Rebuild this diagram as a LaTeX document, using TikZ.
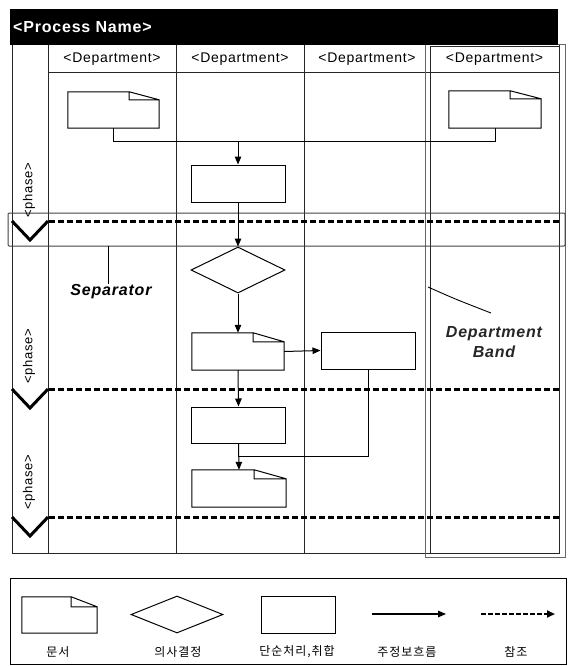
\documentclass[tikz,border=0pt]{standalone}
\usepackage{fontspec}
\setmainfont{Liberation Sans}[LetterSpace=5]
\newfontfamily\krfont{Noto Sans CJK KR}[LetterSpace=8]
\usetikzlibrary{arrows.meta,calc,shapes.geometric}

% outline of a document symbol: node name, fold width, fold height
\newcommand\docoutline[3]{%
  \draw[link, line join=miter]
    (#1.north west) -- ($(#1.north east)+(-#2,0)$) -- ($(#1.north east)+(0,#3)$)
    -- (#1.south east) -- (#1.south west) -- cycle
    ($(#1.north east)+(-#2,0)$) |- ($(#1.north east)+(0,#3)$);}

\begin{document}
\begin{tikzpicture}[x=1pt,y=-1pt,
  link/.style={line width=1pt},
  grid/.style={line width=1pt, black!85},
  phaseline/.style={line width=3pt, dash pattern=on 6pt off 3pt},
  chev/.style={line width=3pt, line join=miter},
  flow/.style={line width=1pt, -{Triangle[length=8pt,width=6.5pt]}},
  refflow/.style={line width=2.6pt, dash pattern=on 4.5pt off 2.5pt,
                  -{Triangle[length=8pt,width=7pt]}},
  procbox/.style={draw, line width=1pt, rectangle, inner sep=0pt,
                  minimum width=94pt, minimum height=37pt},
  decbox/.style={draw, line width=1pt, diamond, aspect=2, inner sep=0pt,
                 minimum width=94pt, minimum height=46pt},
  docbox/.style={rectangle, inner sep=0pt, minimum width=92pt, minimum height=37pt},
  hdr/.style={font=\fontsize{14}{16}\selectfont, inner sep=1pt},
  phaselbl/.style={font=\fontsize{13}{15}\selectfont, rotate=90, inner sep=1pt},
  annot/.style={font=\bfseries\itshape\fontsize{16}{20}\selectfont, inner sep=1pt},
  krlbl/.style={font=\krfont\fontsize{12}{14}\selectfont, inner sep=1pt}
]
\useasboundingbox (0,0) rectangle (568,666);

% ---- swimlane grid ----
\draw[grid] (12,45) rectangle (559,553);
\draw[grid] (48,45) -- (48,553);
\draw[grid] (48,73) -- (559,73);
\draw[grid] (176,45) -- (176,553);
\draw[grid] (304,45) -- (304,553);

% department band (double frame)
\draw[black!60, line width=0.9pt] (425,44) rectangle (565,557);
\draw[grid] (430,47) rectangle (559,553);

% title bar
\fill[black] (10,9) rectangle (558,45);
\node[anchor=west, text=white, font=\bfseries\fontsize{16}{18}\selectfont, inner sep=1pt]
  (title) at (12,27) {<Process Name>};

% lane headers
\node[hdr] (h1) at (112,59) {<Department>};
\node[hdr] (h2) at (240,59) {<Department>};
\node[hdr] (h3) at (367,59) {<Department>};
\node[hdr] (h4) at (494.5,59) {<Department>};

% separator highlight
\draw[black!75, line width=1pt, rounded corners=1pt] (8,213) rectangle (565,246);

% phase separators
\draw[phaseline] (49,221) -- (559,221);
\draw[phaseline] (49,389) -- (559,389);
\draw[phaseline] (49,517) -- (559,517);
\draw[chev] (12,221) -- (30,240) -- (48,221);
\draw[chev] (12,389) -- (30,408) -- (48,389);
\draw[chev] (12,517) -- (30,536) -- (48,517);

% phase labels
\node[phaselbl] (ph1) at (29,190) {<phase>};
\node[phaselbl] (ph2) at (29,356) {<phase>};
\node[phaselbl] (ph3) at (29,482) {<phase>};

% ---- flow elements ----
\node[docbox, minimum width=91pt, minimum height=36pt] (d1) at (113.5,110) {};
\docoutline{d1}{30}{8}
\node[docbox] (d4) at (495,109.5) {};
\docoutline{d4}{31}{8}
\node[procbox] (p1) at (238,183.5) {};
\node[decbox] (dec) at (238,270) {};
\node[docbox] (d2) at (238,351.5) {};
\docoutline{d2}{31}{9}
\node[procbox] (p2) at (368,350.5) {};
\node[procbox, minimum height=36pt] (p3) at (238.5,425) {};
\node[docbox, minimum width=94pt] (d3) at (239,488.5) {};
\docoutline{d3}{32}{9}

\coordinate (j1) at (238,141);
\coordinate (j2) at (238,456);

\draw[link] (d1.south) |- (j1);
\draw[link] (d4.south) |- (j1);
\draw[flow] (j1) -- (p1.north);
\draw[flow] (p1.south) -- (dec.north);
\draw[flow] (dec.south) -- (d2.north);
\draw[flow] (d2.east) -- (p2.west);
\draw[flow] (d2.south) -- (p3.north);
\draw[flow] (p3.south) -- (d3.north);
\draw[link] (p2.south) |- (j2);

% ---- annotations ----
\node[annot] (septxt) at (111,292) {Separator};
\coordinate (sa) at (108,246);
\draw[link] (sa) -- (sa |- septxt.north);

\node[annot, align=center, text=black!85] (bandtxt) at (494,342) {Department\\Band};
\coordinate (ba) at (428,287);
\coordinate (bb) at (491,313);
\draw[link, line width=0.9pt] (ba) .. controls (455,299) .. (bb);

% ---- legend ----
\draw[link] (10,578) rectangle (566,664);
\node[docbox, minimum width=75pt, minimum height=36pt] (ldoc) at (59.5,615) {};
\docoutline{ldoc}{26}{10}
\node[decbox, minimum width=92pt, minimum height=37pt] (ldec) at (177,614.5) {};
\node[procbox, minimum width=74pt] (lproc) at (298,614.5) {};
\coordinate (la) at (372,614);
\coordinate (lb) at (446,614);
\draw[flow, line width=1.2pt] (la) -- (lb);
\coordinate (lc) at (481,614);
\coordinate (ld) at (555,614);
\draw[refflow] (lc) -- (ld);

\node[krlbl] (k1) at (58,652) {문서};
\node[krlbl] (k2) at (178,652) {의사결정};
\node[krlbl] (k3) at (297,652) {단순처리,취합};
\node[krlbl] (k4) at (407,652) {주정보흐름};
\node[krlbl] (k5) at (516,652) {참조};
\end{tikzpicture}
\end{document}
